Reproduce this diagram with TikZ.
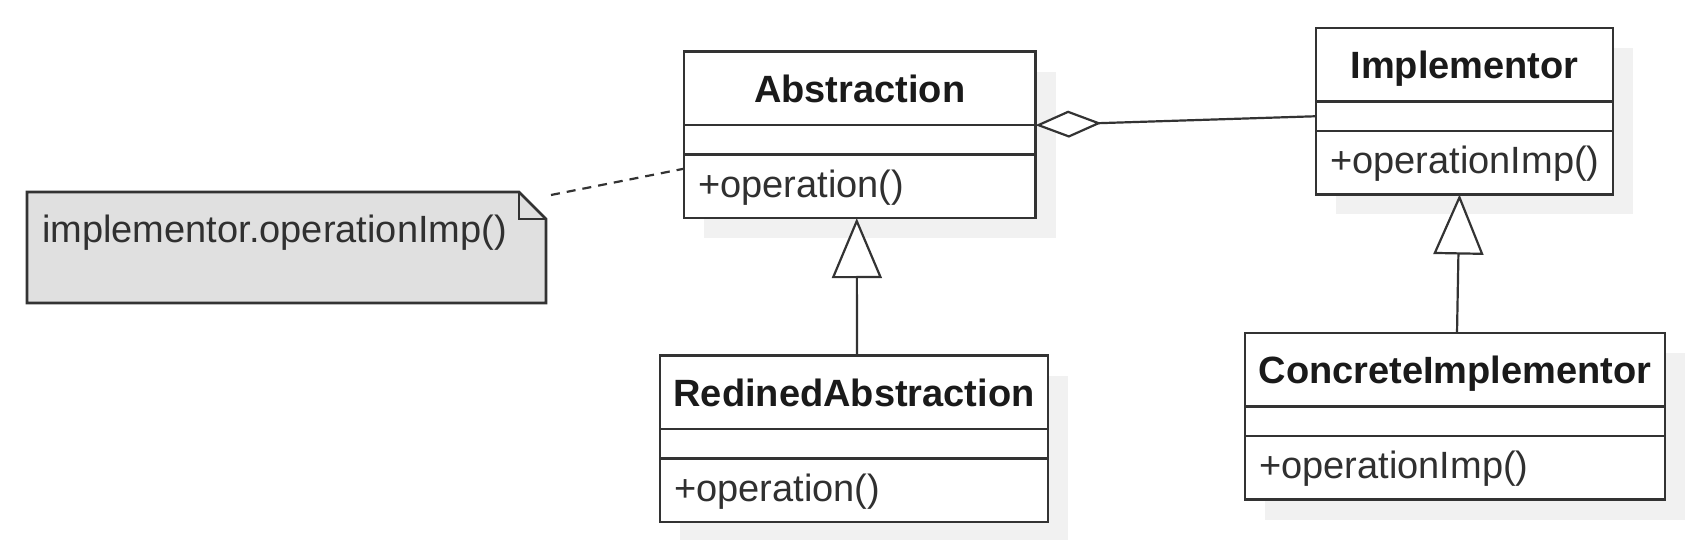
\documentclass[tikz,border=0pt]{standalone}
\usepackage{fontspec}
\setmainfont{Liberation Sans}
\usetikzlibrary{arrows.meta,calc}
\definecolor{linec}{HTML}{333333}
\definecolor{shadowc}{HTML}{F1F1F1}
\definecolor{notefill}{HTML}{E0E0E0}
\definecolor{textc}{HTML}{1A1A1A}
\definecolor{bodyc}{HTML}{303030}
\tikzset{
  comp/.style={draw=linec, line width=2.6pt, inner sep=0pt, outer sep=0pt, fill=white},
  titletext/.style={font=\fontsize{38}{45}\selectfont\bfseries, text=textc, text height=27.5pt, text depth=0pt},
  bodytext/.style={font=\fontsize{38}{45}\selectfont, text=bodyc, inner sep=0pt, anchor=base west},
  conn/.style={draw=linec, line width=2.2pt},
  aggr/.style={conn, -{Diamond[fill=white, length=66pt, width=27pt]}},
  gen/.style={conn, -{Triangle[fill=white, length=60pt, width=50pt]}},
  notedash/.style={conn, dash pattern=on 9pt off 7pt},
  notebox/.style={draw=linec, line width=2.6pt, fill=notefill, line join=miter}
}
% #1 name, #2 left, #3 top, #4 width, #5 title, #6 method
\newcommand\umlclass[6]{%
  \fill[shadowc] (#2+20,#3+20) rectangle ++(#4,166.5);
  \node[comp, titletext, minimum width=#4pt, minimum height=73.5pt, anchor=north west] (#1-t) at (#2,#3) {#5};
  \node[comp, minimum width=#4pt, minimum height=29.5pt, anchor=north] (#1-a) at (#1-t.south) {};
  \node[comp, minimum width=#4pt, minimum height=63.5pt, anchor=north] (#1-m) at (#1-a.south) {};
  \node[bodytext] (#1-mt) at ([xshift=14pt, yshift=-11pt]#1-m.west) {#6};
}
\begin{document}
\begin{tikzpicture}[x=1pt, y=-1pt]
\useasboundingbox (0,0) rectangle (1702,540);
\fill[white] (0,0) rectangle (1702,540);

\umlclass{abs}{684}{51.7}{351.5}{Abstraction}{+operation()}
\umlclass{impl}{1316}{28}{297}{Implementor}{+operationImp()}
\umlclass{red}{660}{355.5}{388}{RedinedAbstraction}{+operation()}
\umlclass{conc}{1245}{333}{420}{ConcreteImplementor}{+operationImp()}

% note
\node[inner sep=0pt, outer sep=0pt, minimum width=519pt, minimum height=111pt, anchor=north west] (note) at (27,192) {};
\draw[notebox] (note.north west) -- ([xshift=-27pt]note.north east) -- ([yshift=-27pt]note.north east) -- (note.south east) -- (note.south west) -- cycle;
\draw[draw=linec, line width=2.6pt] ([xshift=-27pt]note.north east) |- ([yshift=-27pt]note.north east);
\node[bodytext] (notetext) at ([xshift=15pt, yshift=-50pt]note.north west) {implementor.operationImp()};

% connectors
\draw[notedash] ([xshift=5pt, yshift=-3pt]note.north east) -- ([yshift=-14pt]abs-a.south west);
\draw[aggr] (impl-a.west) -- (abs-t.south east);
\draw[gen] ([xshift=3pt]red-t.north) -- ([xshift=-3pt]abs-m.south);
\draw[gen] ([xshift=2pt]conc-t.north) -- ([xshift=-5pt]impl-m.south);
\end{tikzpicture}
\end{document}
